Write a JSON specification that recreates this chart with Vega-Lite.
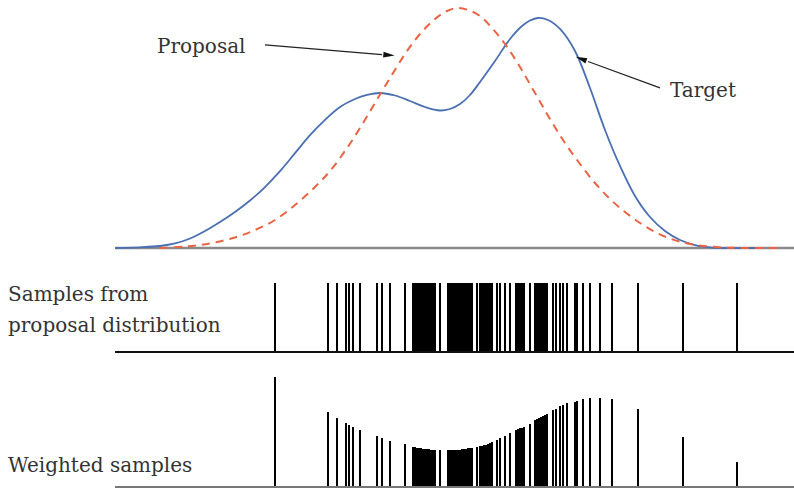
{
  "$schema": "https://vega.github.io/schema/vega-lite/v6.json",
  "padding": 0,
  "spacing": 0,
  "bounds": "flush",
  "background": "white",
  "config": {"view": {"stroke": null}},
  "datasets": {
    "curves": [
      {"series": "Target", "x": 115, "density": 0},
      {"series": "Target", "x": 140, "density": 0.003},
      {"series": "Target", "x": 160, "density": 0.0083},
      {"series": "Target", "x": 175, "density": 0.0188},
      {"series": "Target", "x": 190, "density": 0.0396},
      {"series": "Target", "x": 205, "density": 0.0708},
      {"series": "Target", "x": 220, "density": 0.1083},
      {"series": "Target", "x": 235, "density": 0.15},
      {"series": "Target", "x": 250, "density": 0.1979},
      {"series": "Target", "x": 265, "density": 0.254},
      {"series": "Target", "x": 280, "density": 0.32},
      {"series": "Target", "x": 295, "density": 0.395},
      {"series": "Target", "x": 310, "density": 0.47},
      {"series": "Target", "x": 325, "density": 0.534},
      {"series": "Target", "x": 340, "density": 0.5875},
      {"series": "Target", "x": 355, "density": 0.6208},
      {"series": "Target", "x": 367, "density": 0.6375},
      {"series": "Target", "x": 380, "density": 0.6458},
      {"series": "Target", "x": 395, "density": 0.6354},
      {"series": "Target", "x": 410, "density": 0.6125},
      {"series": "Target", "x": 425, "density": 0.5875},
      {"series": "Target", "x": 440, "density": 0.5729},
      {"series": "Target", "x": 450, "density": 0.5792},
      {"series": "Target", "x": 460, "density": 0.6},
      {"series": "Target", "x": 470, "density": 0.6375},
      {"series": "Target", "x": 480, "density": 0.6917},
      {"series": "Target", "x": 495, "density": 0.7792},
      {"series": "Target", "x": 510, "density": 0.8708},
      {"series": "Target", "x": 522, "density": 0.925},
      {"series": "Target", "x": 530, "density": 0.9479},
      {"series": "Target", "x": 538, "density": 0.9583},
      {"series": "Target", "x": 548, "density": 0.95},
      {"series": "Target", "x": 560, "density": 0.9125},
      {"series": "Target", "x": 575, "density": 0.8208},
      {"series": "Target", "x": 590, "density": 0.6667},
      {"series": "Target", "x": 605, "density": 0.4917},
      {"series": "Target", "x": 620, "density": 0.3417},
      {"series": "Target", "x": 635, "density": 0.2167},
      {"series": "Target", "x": 650, "density": 0.1292},
      {"series": "Target", "x": 665, "density": 0.0708},
      {"series": "Target", "x": 680, "density": 0.0333},
      {"series": "Target", "x": 695, "density": 0.0125},
      {"series": "Target", "x": 710, "density": 0.003},
      {"series": "Target", "x": 725, "density": 0},
      {"series": "Target", "x": 760, "density": 0},
      {"series": "Proposal", "x": 160, "density": 0},
      {"series": "Proposal", "x": 185, "density": 0.006},
      {"series": "Proposal", "x": 210, "density": 0.019},
      {"series": "Proposal", "x": 235, "density": 0.044},
      {"series": "Proposal", "x": 255, "density": 0.075},
      {"series": "Proposal", "x": 275, "density": 0.1167},
      {"series": "Proposal", "x": 295, "density": 0.1792},
      {"series": "Proposal", "x": 315, "density": 0.2542},
      {"series": "Proposal", "x": 330, "density": 0.3208},
      {"series": "Proposal", "x": 345, "density": 0.4042},
      {"series": "Proposal", "x": 360, "density": 0.5},
      {"series": "Proposal", "x": 375, "density": 0.6042},
      {"series": "Proposal", "x": 390, "density": 0.7083},
      {"series": "Proposal", "x": 405, "density": 0.8083},
      {"series": "Proposal", "x": 420, "density": 0.8917},
      {"series": "Proposal", "x": 435, "density": 0.9542},
      {"series": "Proposal", "x": 447, "density": 0.9875},
      {"series": "Proposal", "x": 457, "density": 1.0},
      {"series": "Proposal", "x": 468, "density": 0.9917},
      {"series": "Proposal", "x": 480, "density": 0.9667},
      {"series": "Proposal", "x": 492, "density": 0.9167},
      {"series": "Proposal", "x": 505, "density": 0.85},
      {"series": "Proposal", "x": 520, "density": 0.7542},
      {"series": "Proposal", "x": 535, "density": 0.6458},
      {"series": "Proposal", "x": 550, "density": 0.5375},
      {"series": "Proposal", "x": 565, "density": 0.4375},
      {"series": "Proposal", "x": 580, "density": 0.35},
      {"series": "Proposal", "x": 595, "density": 0.2708},
      {"series": "Proposal", "x": 610, "density": 0.2042},
      {"series": "Proposal", "x": 625, "density": 0.15},
      {"series": "Proposal", "x": 640, "density": 0.1042},
      {"series": "Proposal", "x": 655, "density": 0.0667},
      {"series": "Proposal", "x": 670, "density": 0.0396},
      {"series": "Proposal", "x": 690, "density": 0.0167},
      {"series": "Proposal", "x": 710, "density": 0.006},
      {"series": "Proposal", "x": 730, "density": 0.001},
      {"series": "Proposal", "x": 780, "density": 0}
    ],
    "samples": [
      {"x": 275, "weight": 1.0},
      {"x": 328, "weight": 0.682},
      {"x": 337, "weight": 0.627},
      {"x": 346, "weight": 0.582},
      {"x": 349, "weight": 0.564},
      {"x": 353, "weight": 0.545},
      {"x": 360, "weight": 0.518},
      {"x": 377, "weight": 0.464},
      {"x": 382, "weight": 0.445},
      {"x": 390, "weight": 0.418},
      {"x": 405, "weight": 0.391},
      {"x": 413, "weight": 0.364},
      {"x": 415, "weight": 0.364},
      {"x": 417, "weight": 0.355},
      {"x": 419, "weight": 0.355},
      {"x": 421, "weight": 0.355},
      {"x": 423, "weight": 0.345},
      {"x": 425, "weight": 0.345},
      {"x": 427, "weight": 0.345},
      {"x": 429, "weight": 0.345},
      {"x": 431, "weight": 0.336},
      {"x": 433, "weight": 0.336},
      {"x": 435, "weight": 0.336},
      {"x": 440, "weight": 0.336},
      {"x": 448, "weight": 0.336},
      {"x": 450, "weight": 0.336},
      {"x": 452, "weight": 0.336},
      {"x": 454, "weight": 0.336},
      {"x": 456, "weight": 0.336},
      {"x": 458, "weight": 0.336},
      {"x": 460, "weight": 0.336},
      {"x": 462, "weight": 0.345},
      {"x": 464, "weight": 0.345},
      {"x": 466, "weight": 0.345},
      {"x": 468, "weight": 0.355},
      {"x": 470, "weight": 0.355},
      {"x": 472, "weight": 0.355},
      {"x": 477, "weight": 0.364},
      {"x": 480, "weight": 0.373},
      {"x": 482, "weight": 0.373},
      {"x": 484, "weight": 0.382},
      {"x": 486, "weight": 0.382},
      {"x": 488, "weight": 0.391},
      {"x": 490, "weight": 0.4},
      {"x": 492, "weight": 0.409},
      {"x": 497, "weight": 0.427},
      {"x": 500, "weight": 0.445},
      {"x": 505, "weight": 0.464},
      {"x": 510, "weight": 0.491},
      {"x": 516, "weight": 0.518},
      {"x": 518, "weight": 0.527},
      {"x": 520, "weight": 0.536},
      {"x": 522, "weight": 0.536},
      {"x": 524, "weight": 0.545},
      {"x": 530, "weight": 0.573},
      {"x": 535, "weight": 0.609},
      {"x": 537, "weight": 0.618},
      {"x": 539, "weight": 0.627},
      {"x": 541, "weight": 0.636},
      {"x": 543, "weight": 0.645},
      {"x": 545, "weight": 0.655},
      {"x": 547, "weight": 0.664},
      {"x": 553, "weight": 0.7},
      {"x": 556, "weight": 0.709},
      {"x": 560, "weight": 0.736},
      {"x": 563, "weight": 0.745},
      {"x": 567, "weight": 0.764},
      {"x": 575, "weight": 0.773},
      {"x": 577, "weight": 0.782},
      {"x": 583, "weight": 0.8},
      {"x": 590, "weight": 0.809},
      {"x": 600, "weight": 0.809},
      {"x": 612, "weight": 0.8},
      {"x": 638, "weight": 0.709},
      {"x": 683, "weight": 0.455},
      {"x": 737, "weight": 0.227}
    ],
    "arrows": [
      {"label": "Proposal", "x": 265, "y": 0.846, "x2": 382, "y2": 0.806, "hx": 388, "hy": 0.804, "angle": 95},
      {"label": "Target", "x": 660, "y": 0.667, "x2": 588, "y2": 0.777, "hx": 582, "hy": 0.787, "angle": 291}
    ],
    "labels": [
      {"text": "Proposal", "x": 157, "y": 0.8375},
      {"text": "Target", "x": 670, "y": 0.654}
    ],
    "baseline": [{"start": 115, "end": 794, "level": 0}]
  },
  "vconcat": [
    {
      "width": 794,
      "height": 250,
      "layer": [
        {
          "data": {"name": "baseline"},
          "mark": {"type": "rule", "color": "#8a8a8a", "strokeWidth": 2.5},
          "encoding": {
            "x": {"field": "start", "type": "quantitative", "scale": {"domain": [0, 794], "nice": false, "zero": false}, "axis": null},
            "x2": {"field": "end"},
            "y": {"field": "level", "type": "quantitative", "scale": {"domain": [-0.00833, 1.0333], "nice": false, "zero": false}, "axis": null}
          }
        },
        {
          "data": {"name": "curves"},
          "transform": [{"filter": "datum.series === 'Target'"}],
          "mark": {"type": "line", "color": "#4a6fb3", "strokeWidth": 1.8, "interpolate": "catmull-rom"},
          "encoding": {
            "x": {"field": "x", "type": "quantitative", "scale": {"domain": [0, 794], "nice": false, "zero": false}, "axis": null},
            "y": {"field": "density", "type": "quantitative", "scale": {"domain": [-0.00833, 1.0333], "nice": false, "zero": false}, "axis": null}
          }
        },
        {
          "data": {"name": "curves"},
          "transform": [{"filter": "datum.series === 'Proposal'"}],
          "mark": {"type": "line", "color": "#ea6443", "strokeWidth": 2, "strokeDash": [8, 6], "interpolate": "catmull-rom"},
          "encoding": {
            "x": {"field": "x", "type": "quantitative", "scale": {"domain": [0, 794], "nice": false, "zero": false}, "axis": null},
            "y": {"field": "density", "type": "quantitative", "scale": {"domain": [-0.00833, 1.0333], "nice": false, "zero": false}, "axis": null}
          }
        },
        {
          "data": {"name": "arrows"},
          "mark": {"type": "rule", "color": "#222", "strokeWidth": 1.2},
          "encoding": {
            "x": {"field": "x", "type": "quantitative", "scale": {"domain": [0, 794], "nice": false, "zero": false}, "axis": null},
            "x2": {"field": "x2"},
            "y": {"field": "y", "type": "quantitative", "scale": {"domain": [-0.00833, 1.0333], "nice": false, "zero": false}, "axis": null},
            "y2": {"field": "y2"}
          }
        },
        {
          "data": {"name": "arrows"},
          "mark": {"type": "point", "shape": "M0,-1L0.42,0.7L-0.42,0.7Z", "filled": true, "color": "#111", "opacity": 1, "size": 180},
          "encoding": {
            "x": {"field": "hx", "type": "quantitative", "scale": {"domain": [0, 794], "nice": false, "zero": false}, "axis": null},
            "y": {"field": "hy", "type": "quantitative", "scale": {"domain": [-0.00833, 1.0333], "nice": false, "zero": false}, "axis": null},
            "angle": {"field": "angle", "type": "quantitative", "scale": {"domain": [0, 360], "range": [0, 360]}, "legend": null}
          }
        },
        {
          "data": {"name": "labels"},
          "mark": {"type": "text", "align": "left", "baseline": "middle", "font": "DejaVu Serif", "fontSize": 20, "color": "#333"},
          "encoding": {
            "x": {"field": "x", "type": "quantitative", "scale": {"domain": [0, 794], "nice": false, "zero": false}, "axis": null},
            "y": {"field": "y", "type": "quantitative", "scale": {"domain": [-0.00833, 1.0333], "nice": false, "zero": false}, "axis": null},
            "text": {"field": "text", "type": "nominal"}
          }
        }
      ]
    },
    {
      "width": 794,
      "height": 105,
      "layer": [
        {
          "data": {"name": "samples"},
          "transform": [{"joinaggregate": [{"op": "max", "field": "weight", "as": "full"}]}],
          "mark": {"type": "rule", "color": "#000", "strokeWidth": 2},
          "encoding": {
            "x": {"field": "x", "type": "quantitative", "scale": {"domain": [0, 794], "nice": false, "zero": false}, "axis": null},
            "y": {"field": "full", "type": "quantitative", "scale": {"domain": [-0.04348, 1.4783], "nice": false, "zero": false}, "axis": null}
          }
        },
        {
          "data": {"name": "baseline"},
          "mark": {"type": "rule", "color": "#111", "strokeWidth": 2},
          "encoding": {
            "x": {"field": "start", "type": "quantitative", "scale": {"domain": [0, 794], "nice": false, "zero": false}, "axis": null},
            "x2": {"field": "end"},
            "y": {"field": "level", "type": "quantitative", "scale": {"domain": [-0.04348, 1.4783], "nice": false, "zero": false}, "axis": null}
          }
        },
        {
          "data": {"values": [{"text": "Samples from", "x": 8, "y": 0.826}, {"text": "proposal distribution", "x": 8, "y": 0.377}]},
          "mark": {"type": "text", "align": "left", "baseline": "middle", "font": "DejaVu Serif", "fontSize": 20, "color": "#333"},
          "encoding": {
            "x": {"field": "x", "type": "quantitative", "scale": {"domain": [0, 794], "nice": false, "zero": false}, "axis": null},
            "y": {"field": "y", "type": "quantitative", "scale": {"domain": [-0.04348, 1.4783], "nice": false, "zero": false}, "axis": null},
            "text": {"field": "text", "type": "nominal"}
          }
        }
      ]
    },
    {
      "width": 794,
      "height": 134,
      "layer": [
        {
          "data": {"name": "samples"},
          "mark": {"type": "rule", "color": "#000", "strokeWidth": 2},
          "encoding": {
            "x": {"field": "x", "type": "quantitative", "scale": {"domain": [0, 794], "nice": false, "zero": false}, "axis": null},
            "y": {"field": "weight", "type": "quantitative", "scale": {"domain": [-0.01818, 1.2], "nice": false, "zero": false}, "axis": null}
          }
        },
        {
          "data": {"name": "baseline"},
          "mark": {"type": "rule", "color": "#777", "strokeWidth": 2},
          "encoding": {
            "x": {"field": "start", "type": "quantitative", "scale": {"domain": [0, 794], "nice": false, "zero": false}, "axis": null},
            "x2": {"field": "end"},
            "y": {"field": "level", "type": "quantitative", "scale": {"domain": [-0.01818, 1.2], "nice": false, "zero": false}, "axis": null}
          }
        },
        {
          "data": {"values": [{"text": "Weighted samples", "x": 8, "y": 0.191}]},
          "mark": {"type": "text", "align": "left", "baseline": "middle", "font": "DejaVu Serif", "fontSize": 20, "color": "#333"},
          "encoding": {
            "x": {"field": "x", "type": "quantitative", "scale": {"domain": [0, 794], "nice": false, "zero": false}, "axis": null},
            "y": {"field": "y", "type": "quantitative", "scale": {"domain": [-0.01818, 1.2], "nice": false, "zero": false}, "axis": null},
            "text": {"field": "text", "type": "nominal"}
          }
        }
      ]
    }
  ]
}
